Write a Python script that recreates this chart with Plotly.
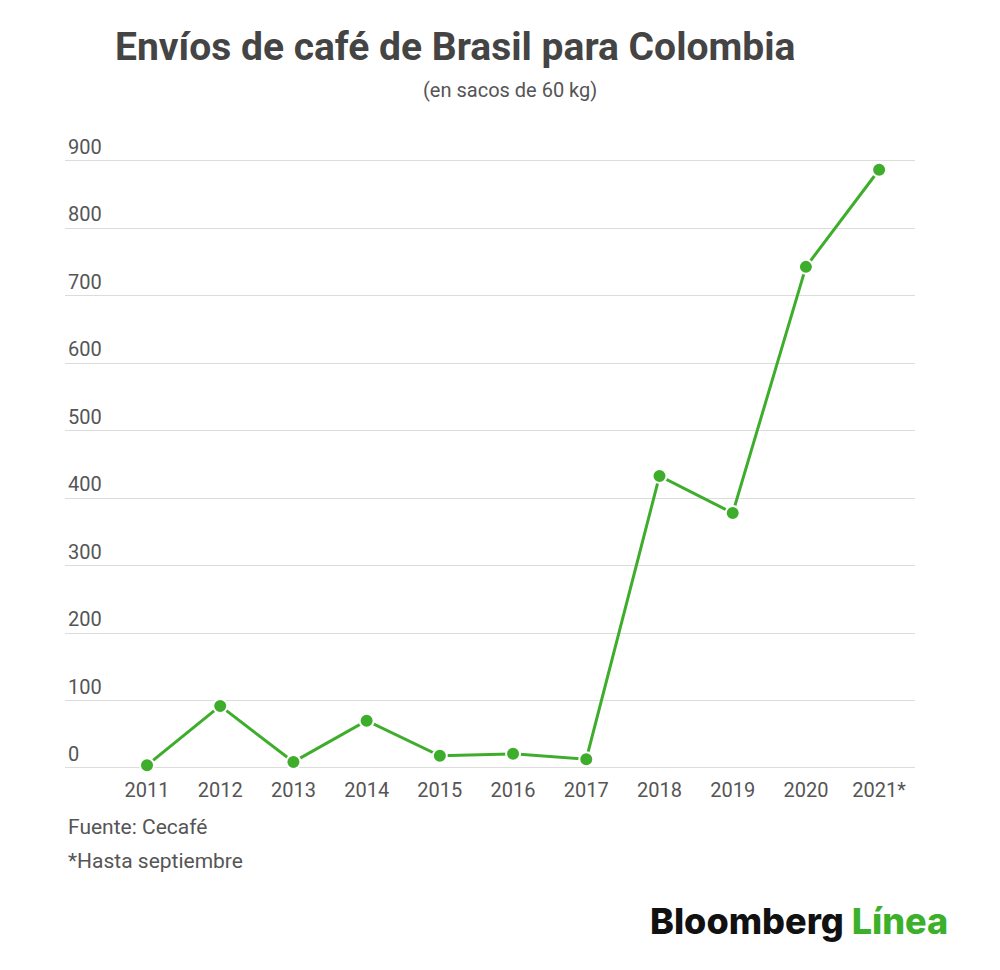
import plotly.graph_objects as go

anos = ["2011", "2012", "2013", "2014", "2015", "2016", "2017", "2018", "2019", "2020", "2021*"]
sacos = [4, 92, 9, 70, 18, 21, 13, 433, 378, 743, 887]
y_ticks = [0, 100, 200, 300, 400, 500, 600, 700, 800, 900]

verde = "#3fad2c"
gris = "#555555"

# plot area in figure pixels (page has an 8px body margin)
L, R, T, B = 57, 907, 126, 762
W, H = 1000, 970


def px(x):
    return (x - 8 - L) / (R - L)


def py(y):
    return (B - (y - 8)) / (B - T)


fig = go.Figure()
fig.add_trace(go.Scatter(
    x=list(range(len(anos))), y=sacos, mode="lines+markers",
    line=dict(color=verde, width=3),
    marker=dict(size=14, color=verde, line=dict(color="white", width=2)),
    cliponaxis=False, hoverinfo="x+y", showlegend=False,
))

fig.update_layout(
    width=W, height=H,
    margin=dict(l=L, r=W - R, t=T, b=H - B),
    paper_bgcolor="white", plot_bgcolor="white",
    font=dict(family="Roboto", color=gris, size=20),
    xaxis=dict(
        tickvals=list(range(len(anos))), ticktext=anos,
        range=[-1.12, 10.49], showgrid=False, zeroline=False,
        showline=False, ticks="", ticklabelstandoff=6,
        tickfont=dict(size=20, color=gris),
    ),
    yaxis=dict(
        tickvals=y_ticks, range=[-3, 940],
        showgrid=True, gridcolor="#dcdcdc", gridwidth=1,
        zeroline=False, showline=False,
        ticklabelposition="inside top", tickfont=dict(size=20, color=gris),
    ),
    annotations=[
        dict(text="<b>Envíos de café de Brasil para Colombia</b>",
             xref="paper", yref="paper", x=px(113), y=py(47),
             xanchor="left", yanchor="middle", showarrow=False,
             font=dict(size=39, color="#444444", family="Roboto")),
        dict(text="(en sacos de 60 kg)",
             xref="paper", yref="paper", x=px(510), y=py(90),
             xanchor="center", yanchor="middle", showarrow=False,
             font=dict(size=20, color=gris)),
        dict(text="Fuente: Cecafé",
             xref="paper", yref="paper", x=px(66), y=py(827),
             xanchor="left", yanchor="middle", showarrow=False,
             font=dict(size=21, color=gris)),
        dict(text="*Hasta septiembre",
             xref="paper", yref="paper", x=px(66), y=py(861),
             xanchor="left", yanchor="middle", showarrow=False,
             font=dict(size=21, color=gris)),
        dict(text="Bloomberg <span style='color:#3cb02a'>Línea</span>",
             xref="paper", yref="paper", x=px(950), y=py(921),
             xanchor="right", yanchor="middle", showarrow=False,
             font=dict(size=36, color="#111111", family="Inter", weight=800)),
    ],
)

fig.write_html("out.html")
